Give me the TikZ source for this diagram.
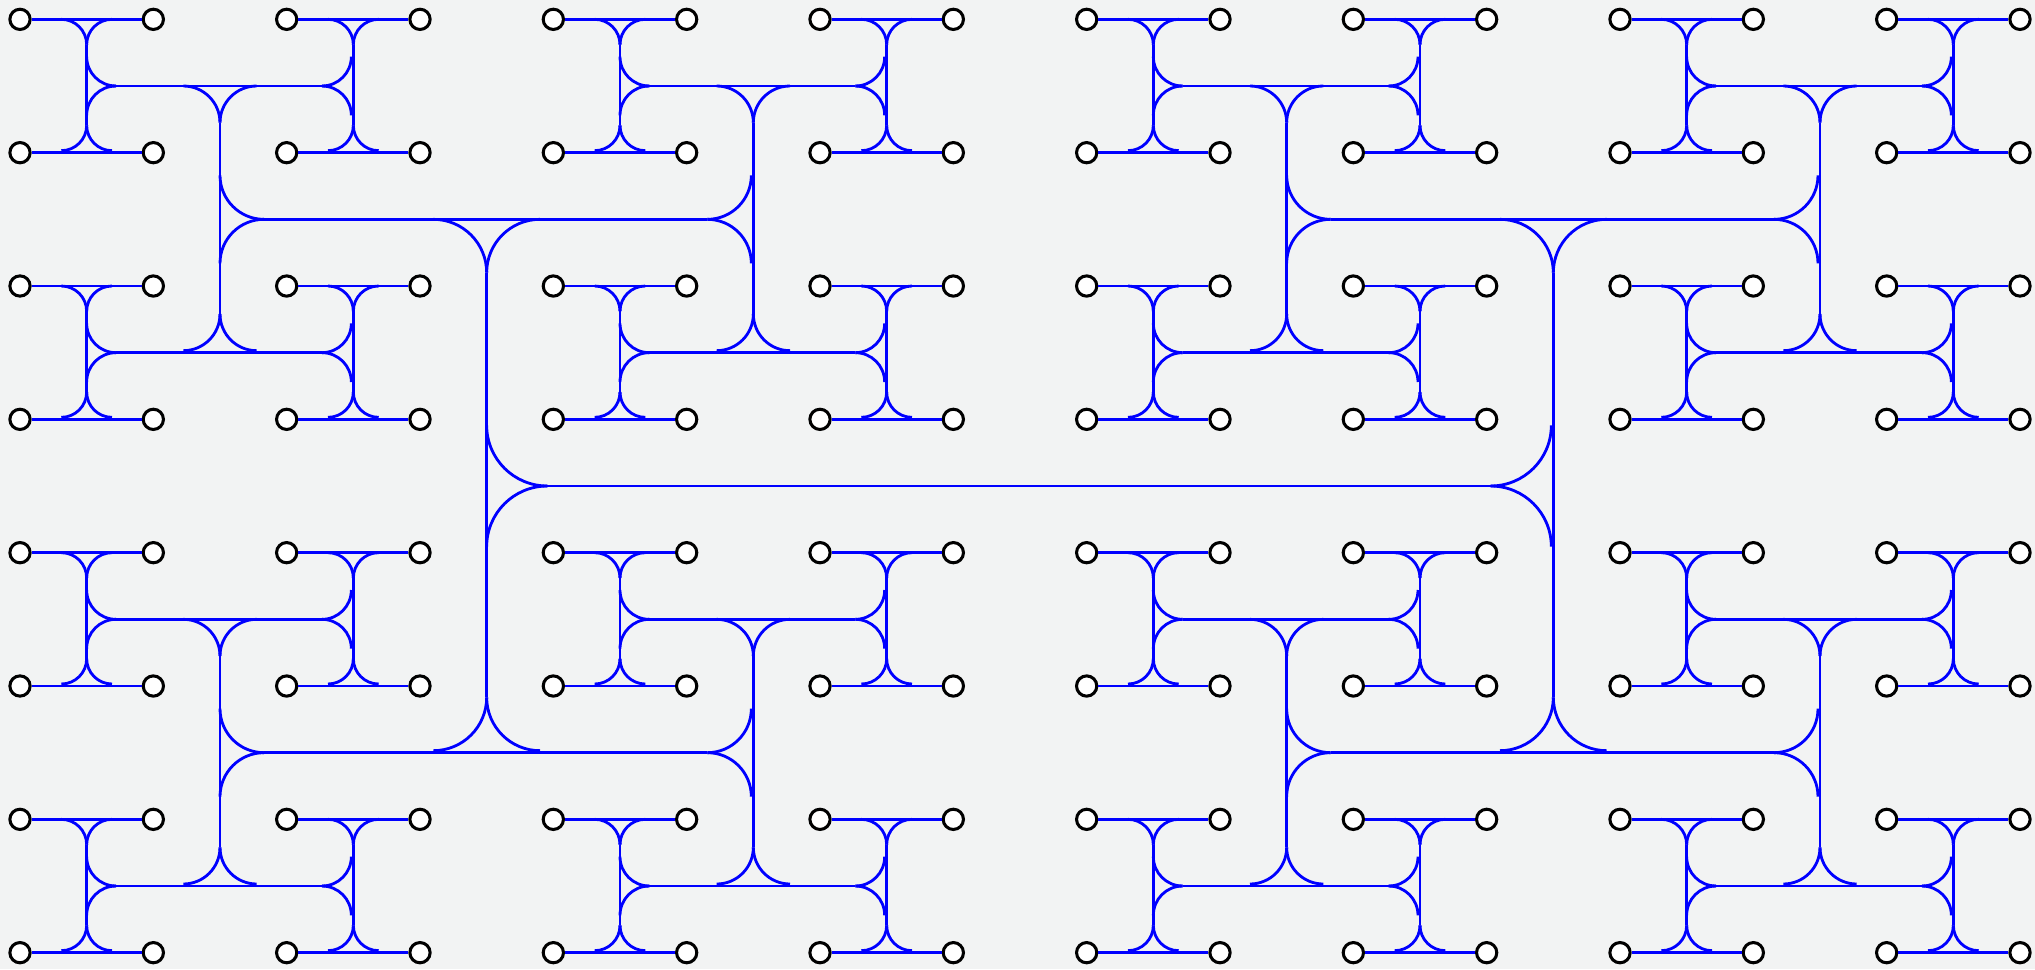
\documentclass[tikz,border=0pt]{standalone}
\definecolor{bgcol}{RGB}{242,243,243}
\definecolor{wireblue}{RGB}{0,0,255}
\newcommand\jct[5]{%
  \foreach \sg in {-1,1}{%
    \pgfmathsetmacro\jox{-0.015*((#3)<0)}%
    \pgfmathsetmacro\joy{-0.015*((#4)<0)}%
    \pgfmathsetmacro\jbx{\sg*abs(#4)}%
    \pgfmathsetmacro\jby{\sg*abs(#3)}%
    \pgfmathsetmacro\jk{0.4477*#5}%
    \draw[wire] ({#1+#5*(#3)+\jox},{#2+#5*(#4)+\joy})
      .. controls ({#1+\jk*(#3)+\jox},{#2+\jk*(#4)+\joy})
      and ({#1+\jk*(\jbx)+\jox},{#2+\jk*(\jby)+\joy})
      .. ({#1+#5*(\jbx)+\jox},{#2+#5*(\jby)+\joy});
  }%
}
\begin{document}
\begin{tikzpicture}[x=1cm,y=-1cm,
  wire/.style={draw=wireblue, line width=0.6pt},
  leaf/.style={circle, draw=black, fill=white, line width=0.65pt, minimum size=0.152cm, inner sep=0pt}]
\fill[bgcol] (-0.15,-0.145) rectangle (15.1125,7.1225);
\useasboundingbox (-0.15,-0.145) rectangle (15.1125,7.1225);
\def\rA{0.455}\def\rB{0.4}\def\rC{0.33}\def\rD{0.275}\def\rE{0.22}\def\rF{0.19}
\def\sh{0.015}
% leaves
\foreach \i in {0,...,15}{\foreach \j in {0,...,7}{
  \node[leaf] (c-\i-\j) at (\i,\j) {};
}}
% root bar
\draw[wire] ({3.5+\rA},3.5) -- ({11.5-\rA-\sh},3.5);
% level 1
\foreach \s/\d in {0/1,1/-1}{
  \pgfmathsetmacro\xx{8*\s+3.5}
  \jct{\xx}{3.5}{\d}{0}{\rA}
  \draw[wire] (\xx,{1.5+\rB}) -- (\xx,{5.5-\rB-\sh});
}
% level 2
\foreach \s in {0,1}{\foreach \q/\d in {0/1,1/-1}{
  \pgfmathsetmacro\xx{8*\s+3.5}
  \pgfmathsetmacro\yy{4*\q+1.5}
  \jct{\xx}{\yy}{0}{\d}{\rB}
  \draw[wire] ({8*\s+1.5+\rC},\yy) -- ({8*\s+5.5-\rC-\sh},\yy);
}}
% level 3
\foreach \p in {0,...,3}{\foreach \q in {0,1}{
  \pgfmathsetmacro\xx{4*\p+1.5}
  \pgfmathsetmacro\yy{4*\q+1.5}
  \pgfmathtruncatemacro\dd{1-2*mod(\p,2)}
  \jct{\xx}{\yy}{\dd}{0}{\rC}
  \draw[wire] (\xx,{4*\q+0.5+\rD}) -- (\xx,{4*\q+2.5-\rD-\sh});
}}
% level 4
\foreach \p in {0,...,3}{\foreach \n in {0,...,3}{
  \pgfmathsetmacro\xx{4*\p+1.5}
  \pgfmathsetmacro\yy{2*\n+0.5}
  \pgfmathtruncatemacro\dd{1-2*mod(\n,2)}
  \jct{\xx}{\yy}{0}{\dd}{\rD}
  \draw[wire] ({4*\p+0.5+\rE},\yy) -- ({4*\p+2.5-\rE-\sh},\yy);
}}
% level 5
\foreach \m in {0,...,7}{\foreach \n in {0,...,3}{
  \pgfmathsetmacro\xx{2*\m+0.5}
  \pgfmathsetmacro\yy{2*\n+0.5}
  \pgfmathtruncatemacro\dd{1-2*mod(\m,2)}
  \jct{\xx}{\yy}{\dd}{0}{\rE}
  \draw[wire] (\xx,{2*\n+\rF}) -- (\xx,{2*\n+1-\rF-\sh});
}}
% level 6
\foreach \m in {0,...,7}{\foreach \j in {0,...,7}{
  \pgfmathsetmacro\xx{2*\m+0.5}
  \pgfmathtruncatemacro\dd{1-2*mod(\j,2)}
  \pgfmathtruncatemacro\ia{2*\m}
  \pgfmathtruncatemacro\ib{2*\m+1}
  \jct{\xx}{\j}{0}{\dd}{\rF}
  \draw[wire] (c-\ia-\j) -- (c-\ib-\j);
}}
\end{tikzpicture}
\end{document}
